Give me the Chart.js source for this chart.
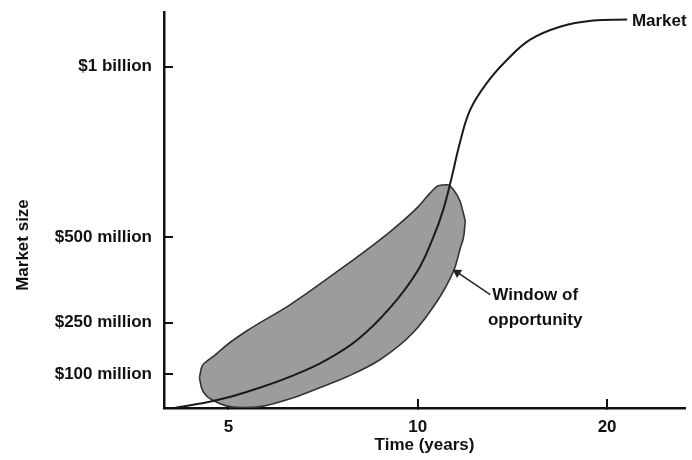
<!DOCTYPE html>
<html>
<head>
<meta charset="utf-8">
<script src="https://cdn.jsdelivr.net/npm/chart.js@4.4.1/dist/chart.umd.min.js"></script>
<style>
  html, body { margin: 0; padding: 0; background: #fff; }
  #wrap { width: 692px; height: 460px; }
</style>
</head>
<body>
<div id="wrap"><canvas id="chart" width="692" height="460"></canvas></div>
<script>
/* =====================================================
   DATA  (time in years, market size in $ millions)
===================================================== */
const xTicks = [5, 10, 20];
const xTickLabels = ["5", "10", "20"];
const yTicks = [100, 250, 500, 1000];
const yTickLabels = ["$100 million", "$250 million", "$500 million", "$1 billion"];

const marketYears = [4.12, 4.51, 5.04, 5.62, 6.27, 7.08, 8.02, 9.04, 9.98, 10.58, 10.98, 11.3, 11.68, 12.12, 12.89, 13.87, 15.09, 16.84, 19.0, 21.52];
const marketSize = [1, 13, 33, 60, 92, 136, 200, 294, 400, 499, 581, 669, 780, 874, 953, 1020, 1079, 1117, 1135, 1138];

// window of opportunity: upper and lower edge of the shaded band
const windowTopYears = [4.497, 4.53, 4.613, 4.733, 4.982, 5.36, 6.273, 7.449, 9.043, 9.982, 10.47, 10.78, 11.14, 11.39, 11.68, 11.9];
const windowTopSize = [89, 118, 136, 151, 186, 227, 303, 400, 517, 587, 630, 651, 654, 640, 605, 548];
const windowLowYears = [4.497, 4.53, 4.613, 4.733, 4.945, 5.225, 5.621, 6.342, 7.0, 7.727, 8.718, 9.837, 10.78, 11.14, 11.47, 11.68, 11.85, 11.9];
const windowLowSize = [89, 60, 36, 22, 7, 1, 4, 30, 60, 92, 142, 221, 318, 363, 414, 467, 511, 548];

// arrow from the label to the band
const arrowYears = [13.04, 11.56];
const arrowSize = [332, 397];

const notes = [
  { text: "Market", x: 21.9, y: 1132, align: "left" },
  { text: "Window of", x: 15.37, y: 329, align: "center" },
  { text: "opportunity", x: 15.37, y: 256, align: "center" }
];

const toPoints = (xs, ys) => xs.map((x, i) => ({ x, y: ys[i] }));

/* =====================================================
   STYLE
===================================================== */
const FONT = "'Liberation Sans', Arial, sans-serif";
const INK = "#111";
Chart.defaults.font.family = FONT;
Chart.defaults.font.size = 17;
Chart.defaults.font.weight = "bold";
Chart.defaults.color = INK;

const notesPlugin = {
  id: "notes",
  afterDatasetsDraw(chart) {
    const { ctx, scales: { x, y } } = chart;
    ctx.save();
    ctx.font = "bold 17px " + FONT;
    ctx.fillStyle = INK;
    ctx.textBaseline = "middle";
    notes.forEach(n => {
      ctx.textAlign = n.align;
      ctx.fillText(n.text, x.getPixelForValue(n.x), y.getPixelForValue(n.y));
    });
    // y axis title
    ctx.translate(23, 245);
    ctx.rotate(-Math.PI / 2);
    ctx.textAlign = "center";
    ctx.fillText("Market size", 0, 0);
    ctx.restore();
  }
};

// fixed axis sizes, no extra room for edge labels
const fixSize = (w, h) => s => {
  if (w) s.width = w;
  if (h) s.height = h;
  s.paddingTop = s.paddingBottom = s.paddingLeft = s.paddingRight = 0;
};

/* =====================================================
   CHART
===================================================== */
new Chart(document.getElementById("chart"), {
  type: "line",
  data: {
    datasets: [
      {
        label: "Market",
        data: toPoints(marketYears, marketSize),
        borderColor: "#1a1a1a",
        borderWidth: 2,
        tension: 0.4,
        pointRadius: 0,
        fill: false
      },
      {
        label: "arrow",
        data: toPoints(arrowYears, arrowSize),
        borderColor: "#222",
        borderWidth: 1.5,
        tension: 0,
        pointRadius: [0, 5.5],
        pointStyle: "triangle",
        rotation: -56,
        pointBackgroundColor: "#222",
        pointBorderWidth: 0,
        fill: false
      },
      {
        label: "Window of opportunity",
        data: toPoints(windowTopYears, windowTopSize),
        borderColor: "#333",
        borderWidth: 1.6,
        backgroundColor: "#9c9c9c",
        cubicInterpolationMode: "monotone",
        pointRadius: 0,
        fill: "+1"
      },
      {
        label: "window lower",
        data: toPoints(windowLowYears, windowLowSize),
        borderColor: "#333",
        borderWidth: 1.6,
        cubicInterpolationMode: "monotone",
        pointRadius: 0,
        fill: false
      }
    ]
  },
  options: {
    responsive: false,
    animation: false,
    events: [],
    layout: { padding: { top: 12, right: 7, left: 0, bottom: 0 } },
    plugins: {
      legend: { display: false },
      tooltip: { enabled: false },
      filler: { drawTime: "beforeDatasetsDraw" }
    },
    scales: {
      x: {
        type: "logarithmic",
        min: 3.95,
        max: 26.6,
        bounds: "data",
        afterBuildTicks: s => { s.ticks = xTicks.map(v => ({ value: v })); },
        afterFit: fixSize(0, 52),
        ticks: {
          autoSkip: false,
          maxRotation: 0,
          padding: 18,
          color: INK,
          callback: (v, i) => xTickLabels[i]
        },
        grid: { drawOnChartArea: false, tickLength: -9, color: INK, lineWidth: 2 },
        border: { color: INK, width: 2.5 },
        title: {
          display: true,
          text: "Time (years)",
          color: INK,
          padding: { top: 0, bottom: 4 }
        }
      },
      y: {
        type: "linear",
        min: 0,
        max: 1160,
        bounds: "data",
        afterBuildTicks: s => { s.ticks = yTicks.map(v => ({ value: v })); },
        afterFit: fixSize(164, 0),
        ticks: {
          autoSkip: false,
          padding: 21,
          color: INK,
          callback: (v, i) => yTickLabels[i]
        },
        grid: { drawOnChartArea: false, tickLength: -9, color: INK, lineWidth: 2 },
        border: { color: INK, width: 2.5 }
      }
    }
  },
  plugins: [notesPlugin]
});
</script>
</body>
</html>
